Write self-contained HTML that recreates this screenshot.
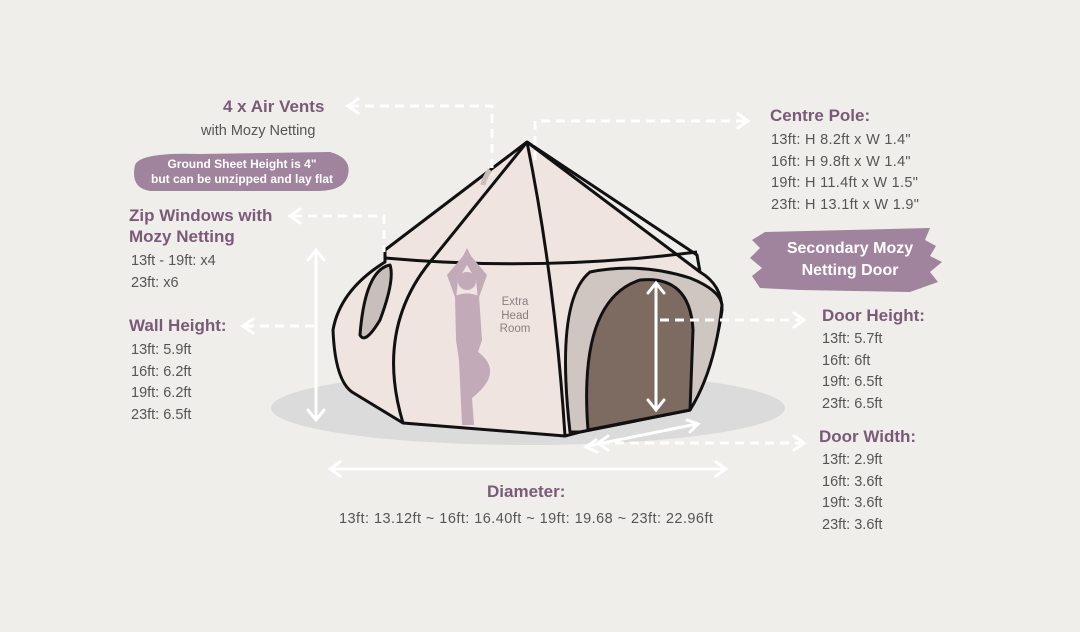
<!DOCTYPE html>
<html><head><meta charset="utf-8"><style>
body{margin:0;width:1080px;height:632px;background:#efeeeb;overflow:hidden;font-family:"Liberation Sans",sans-serif;}
svg{position:absolute;left:0;top:0}
.t{position:absolute;color:#555;font-size:14.5px;line-height:21.5px;white-space:nowrap}
.h{position:absolute;color:#7b5a78;font-size:17px;font-weight:bold;white-space:nowrap}
</style></head><body>
<svg width="1080" height="632" viewBox="0 0 1080 632">
<ellipse cx="528" cy="408" rx="257" ry="37" fill="#dcdbdb"/>
<path d="M135 165 Q140 152 200 154 L330 152 Q352 158 348 175 Q345 190 320 191 L150 191 Q130 188 135 165Z" fill="#a0839c"/>
<path d="M765 232 L930 228 L925 240 L936 246 L930 256 L942 262 L930 272 L938 282 L910 292 L800 290 L760 288 L752 276 L762 268 L750 258 L760 248 L752 240Z" fill="#a0839c"/>
<g stroke="#111" stroke-width="3" stroke-linejoin="round" fill="#efe4df">
<path d="M527 142 L385 250 L385 262 Q340 290 333 330 Q335 380 352 392 L403 423 L565 436 L580 432 L690 410 Q715 360 722 310 Q722 285 700 272 L527 142Z"/>
<path d="M527 142 L430 262" fill="none"/>
<path d="M385 258 Q540 272 697 252" fill="none"/>
<path d="M403 423 Q375 330 430 262" fill="none"/>
<path d="M527 142 Q555 280 565 436" fill="none"/>
<path d="M527 142 L697 255 L700 272" fill="none"/>
<path d="M570 432 Q555 300 590 272 Q640 262 690 278 Q720 290 722 305 Q715 370 690 410 L580 432Z" fill="#cfc6c2"/>
<path d="M588 430 Q578 300 640 280 Q690 275 693 330 L690 410Z" fill="#7d6b62"/>
<path d="M360 335 Q365 270 390 265 Q395 280 380 320 Q365 345 360 335Z" fill="#c8bebb"/>
</g>
<path d="M490 170 Q484 178 483 185" stroke="#c8bebb" stroke-width="5" fill="none"/>
<g fill="#c3aab9">
<circle cx="467" cy="281" r="9"/>
<path d="M455 296 Q467 291 479 296 L482 340 L478 352 Q505 372 472 398 L474 425 L462 425 L459 360 L456 340Z"/>
<path d="M456 300 L447 275 L463 256 L467 248 L471 256 L487 275 L478 300 L476 280 L467 265 L458 280Z"/>
</g>
<g stroke="#fff" stroke-width="3" fill="none" stroke-dasharray="9 6">
<path d="M350 106 L492 106 L492 175"/>
<path d="M535 160 L535 121 L745 121"/>
<path d="M293 216 L384 216 L384 252"/>
<path d="M245 326 L316 326"/>
<path d="M660 320 L800 320"/>
<path d="M600 443 L800 443"/>
</g>
<g stroke="#fff" stroke-width="3" fill="none" stroke-linecap="round">
<path d="M316 252 L316 418"/><path d="M308 260 L316 250 L324 260 M308 410 L316 420 L324 410"/>
<path d="M656 285 L656 408"/><path d="M648 293 L656 283 L664 293 M648 400 L656 410 L664 400"/>
<path d="M332 469 L724 469"/><path d="M340 462 L330 469 L340 476 M716 462 L726 469 L716 476"/>
<path d="M588 446 L697 424"/><path d="M596 440 L586 447 L597 452 M687 420 L698 424 L690 432"/>
<path d="M358 99 L348 106 L358 113 M738 114 L748 121 L738 128 M300 209 L290 216 L300 223 M253 319 L243 326 L253 333 M794 313 L804 320 L794 327 M794 436 L804 443 L794 450 M608 436 L598 443 L608 450"/>
</g>
<text x="515" y="305" font-family="Liberation Sans" font-size="11.5" fill="#8a7f80" text-anchor="middle">Extra</text>
<text x="515" y="319" font-family="Liberation Sans" font-size="11.5" fill="#8a7f80" text-anchor="middle">Head</text>
<text x="515" y="332" font-family="Liberation Sans" font-size="11.5" fill="#8a7f80" text-anchor="middle">Room</text>
</svg>
<div class="h" style="left:223px;top:97px">4 x Air Vents</div>
<div class="t" style="left:201px;top:121px">with Mozy Netting</div>
<div style="position:absolute;left:138px;top:157px;width:208px;text-align:center;color:#fff;font-size:12px;font-weight:bold;line-height:15px">Ground Sheet Height is 4"<br>but can be unzipped and lay flat</div>
<div class="h" style="left:129px;top:205px;line-height:21px">Zip Windows with<br>Mozy Netting</div>
<div class="t" style="left:131px;top:251px">13ft - 19ft: x4<br>23ft: x6</div>
<div class="h" style="left:129px;top:316px">Wall Height:</div>
<div class="t" style="left:131px;top:340px">13ft: 5.9ft<br>16ft: 6.2ft<br>19ft: 6.2ft<br>23ft: 6.5ft</div>
<div class="h" style="left:770px;top:106px">Centre Pole:</div>
<div class="t" style="left:771px;top:130px;letter-spacing:0.3px">13ft: H 8.2ft x W 1.4"<br>16ft: H 9.8ft x W 1.4"<br>19ft: H 11.4ft x W 1.5"<br>23ft: H 13.1ft x W 1.9"</div>
<div style="position:absolute;left:760px;top:238px;width:180px;text-align:center;color:#fff;font-size:16px;font-weight:bold;line-height:22px">Secondary Mozy<br>Netting Door</div>
<div class="h" style="left:822px;top:306px">Door Height:</div>
<div class="t" style="left:822px;top:329px">13ft: 5.7ft<br>16ft: 6ft<br>19ft: 6.5ft<br>23ft: 6.5ft</div>
<div class="h" style="left:819px;top:427px">Door Width:</div>
<div class="t" style="left:822px;top:450px">13ft: 2.9ft<br>16ft: 3.6ft<br>19ft: 3.6ft<br>23ft: 3.6ft</div>
<div class="h" style="left:487px;top:482px">Diameter:</div>
<div class="t" style="left:339px;top:509px;letter-spacing:0.45px">13ft: 13.12ft ~ 16ft: 16.40ft ~ 19ft: 19.68 ~ 23ft: 22.96ft</div>
</body></html>
